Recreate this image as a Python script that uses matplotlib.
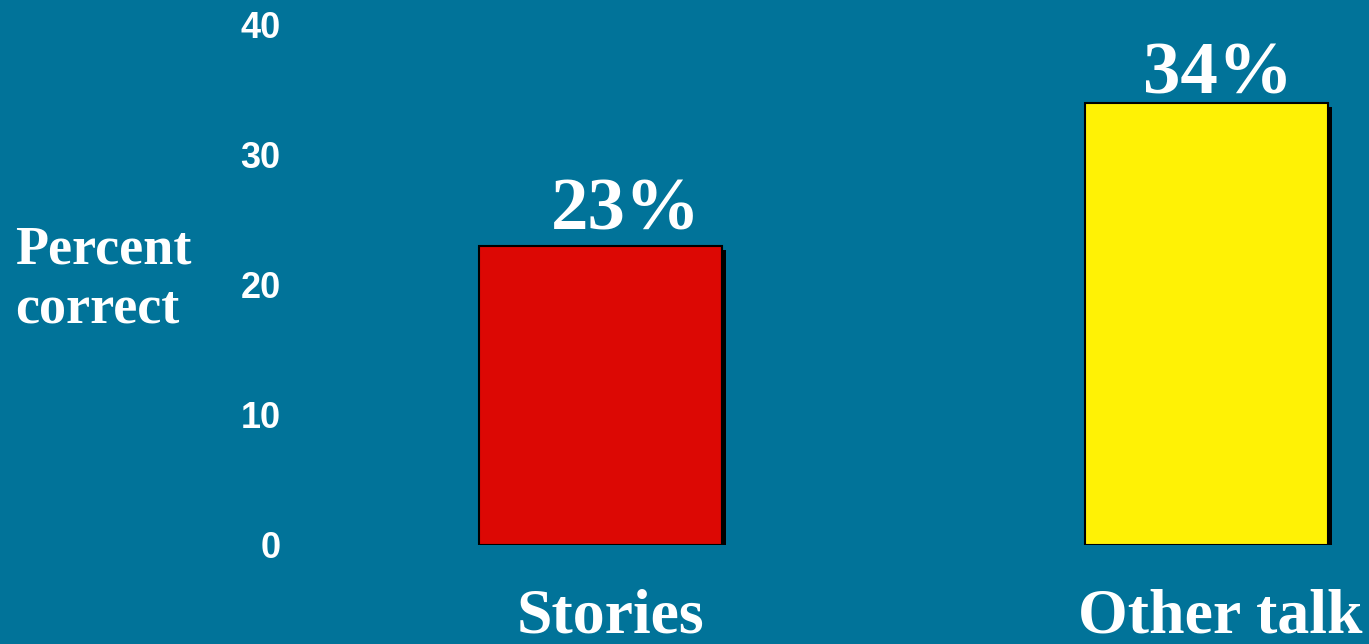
import matplotlib
matplotlib.use('Agg')
import matplotlib.pyplot as plt
import matplotlib.patheffects as pe
from matplotlib.transforms import ScaledTranslation

categories = ['Stories', 'Other talk']
percent_correct = [23, 34]
bar_labels = ['23%', '34%']
bar_colors = ['#dc0804', '#fff205']
y_ticks = [0, 10, 20, 30, 40]

BG = '#017399'

fig = plt.figure(figsize=(13.69, 6.44), dpi=100, facecolor=BG)
ax = fig.add_axes([300 / 1369, 99 / 644, 1069 / 1369, 520 / 644])
ax.set_facecolor(BG)

x = list(range(len(categories)))
bars = ax.bar(x, percent_correct, width=0.401, color=bar_colors,
              edgecolor='black', linewidth=1.5, zorder=3)
for b in bars:
    b.set_path_effects([pe.SimplePatchShadow(offset=(3, -3), shadow_rgbFace='black', alpha=1.0),
                        pe.Normal()])

# value labels sit a little off the bar centres in the original slide
label_shift = [(18, 0.5), (8, -4.5)]
for xi, v, lab, (dx, dy) in zip(x, percent_correct, bar_labels, label_shift):
    ax.annotate(lab, (xi, v), xytext=(dx, dy), textcoords='offset points',
                ha='center', va='bottom', color='white', fontsize=54,
                fontweight='bold', family='Liberation Serif')

ax.set_xlim(-0.496, 1.268)
ax.set_ylim(0, 40)
ax.set_yticks(y_ticks)
ax.set_yticklabels([str(t) for t in y_ticks], color='white', fontsize=26,
                   fontweight='bold', family='Liberation Sans')
ax.set_xticks(x)
ax.set_xticklabels(categories, color='white', fontsize=46,
                   fontweight='bold', family='Liberation Serif')
ax.tick_params(axis='y', length=0, pad=14)
ax.tick_params(axis='x', length=0, pad=31)
for lab, dx in zip(ax.get_xticklabels(), [7, 10]):
    lab.set_transform(lab.get_transform() + ScaledTranslation(dx / 72, 0, fig.dpi_scale_trans))
for s in ax.spines.values():
    s.set_visible(False)

fig.text(15 / 1369, 1 - 280 / 644, 'Percent\ncorrect', color='white', fontsize=39,
         fontweight='bold', family='Liberation Serif', ha='left', va='center',
         linespacing=1.26)

fig.savefig('out.png', dpi=100, facecolor=BG)
